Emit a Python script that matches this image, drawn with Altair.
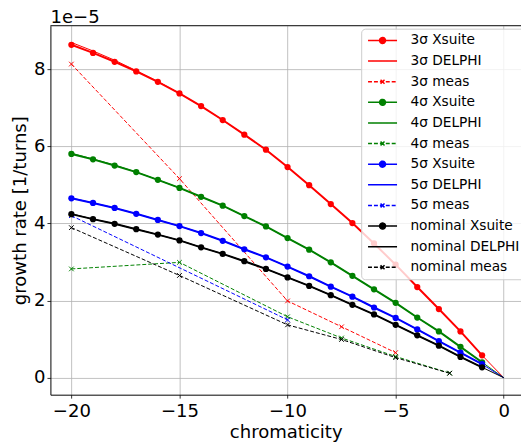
import altair as alt
import pandas as pd

# ---------------- data (growth rate in units of 1e-5 1/turns) ----------------
chroma_sim = [-20, -19, -18, -17, -16, -15, -14, -13, -12, -11,
              -10, -9, -8, -7, -6, -5, -4, -3, -2, -1]
chroma_delphi = [-20, -19, -18, -17, -16, -15, -14, -13, -12, -11,
                 -10, -9, -8, -7, -6, -5, -4, -3, -2, -1, 0]

s3_xsuite = [8.63, 8.42, 8.19, 7.94, 7.67, 7.37, 7.04, 6.68, 6.30, 5.91,
             5.46, 4.99, 4.50, 4.01, 3.48, 2.93, 2.35, 1.78, 1.20, 0.58]
s3_delphi = [8.69, 8.47, 8.23, 7.96, 7.68, 7.37, 7.04, 6.68, 6.30, 5.91,
             5.46, 4.99, 4.50, 4.01, 3.48, 2.93, 2.35, 1.78, 1.20, 0.58, 0.0]
s4_xsuite = [5.80, 5.66, 5.50, 5.33, 5.13, 4.92, 4.69, 4.46, 4.19, 3.92,
             3.62, 3.32, 2.99, 2.64, 2.29, 1.94, 1.56, 1.20, 0.80, 0.40]
s4_delphi = [5.82, 5.67, 5.51, 5.33, 5.13, 4.92, 4.69, 4.46, 4.19, 3.92,
             3.62, 3.32, 2.99, 2.64, 2.29, 1.94, 1.56, 1.20, 0.80, 0.40, 0.0]
s5_xsuite = [4.65, 4.53, 4.40, 4.25, 4.09, 3.93, 3.75, 3.55, 3.33, 3.12,
             2.88, 2.63, 2.36, 2.10, 1.82, 1.55, 1.25, 0.95, 0.65, 0.35]
s5_delphi = [4.66, 4.53, 4.40, 4.25, 4.09, 3.93, 3.75, 3.55, 3.33, 3.12,
             2.88, 2.63, 2.36, 2.10, 1.82, 1.55, 1.25, 0.95, 0.65, 0.35, 0.0]
nom_xsuite = [4.24, 4.11, 3.99, 3.85, 3.71, 3.56, 3.38, 3.21, 3.02, 2.82,
              2.60, 2.38, 2.14, 1.89, 1.64, 1.37, 1.10, 0.83, 0.54, 0.27]
nom_delphi = [4.25, 4.11, 3.99, 3.85, 3.71, 3.56, 3.38, 3.21, 3.02, 2.82,
              2.60, 2.38, 2.14, 1.89, 1.64, 1.37, 1.10, 0.83, 0.54, 0.27, 0.0]

s3_meas_chroma = [-20, -15, -10, -7.5, -5]
s3_meas = [8.13, 5.16, 1.99, 1.32, 0.65]
s4_meas_chroma = [-20, -15, -10, -7.5, -5, -2.5]
s4_meas = [2.82, 2.99, 1.58, 1.03, 0.55, 0.12]
s5_meas_chroma = [-20, -10]
s5_meas = [4.20, 1.50]
nom_meas_chroma = [-20, -15, -10, -7.5, -5, -2.5]
nom_meas = [3.89, 2.65, 1.37, 0.99, 0.52, 0.115]

groups = ["3σ", "4σ", "5σ", "nominal"]
group_colors = ["#ff0000", "#008000", "#0000ff", "#000000"]
kinds = ["Xsuite", "DELPHI", "meas"]

SCALE = 1e-5
rows = []
def add(group, kind, xs, ys):
    for x, y in zip(xs, ys):
        rows.append({"chroma": x, "rate": y * SCALE, "group": group,
                     "series": f"{group} {kind}", "kind": kind})

add("3σ", "Xsuite", chroma_sim, s3_xsuite)
add("3σ", "DELPHI", chroma_delphi, s3_delphi)
add("3σ", "meas", s3_meas_chroma, s3_meas)
add("4σ", "Xsuite", chroma_sim, s4_xsuite)
add("4σ", "DELPHI", chroma_delphi, s4_delphi)
add("4σ", "meas", s4_meas_chroma, s4_meas)
add("5σ", "Xsuite", chroma_sim, s5_xsuite)
add("5σ", "DELPHI", chroma_delphi, s5_delphi)
add("5σ", "meas", s5_meas_chroma, s5_meas)
add("nominal", "Xsuite", chroma_sim, nom_xsuite)
add("nominal", "DELPHI", chroma_delphi, nom_delphi)
add("nominal", "meas", nom_meas_chroma, nom_meas)
df = pd.DataFrame(rows)

names = [f"{g} {k}" for g in groups for k in kinds]
colors = [c for c in group_colors for _ in kinds]

FONT = "DejaVu Sans"
FS = 18.3
W, H = 477, 374

xscale = alt.Scale(domain=[-20.97, 0.8], nice=False, zero=False)
yscale = alt.Scale(domain=[-0.44e-5, 9.124e-5], nice=False, zero=False)
gscale = alt.Scale(domain=groups, range=group_colors)

xaxis = alt.Axis(title="chromaticity", values=[-20, -15, -10, -5, 0], format="d",
                 grid=True, labelFlush=False, labelPadding=5, titlePadding=4)
yaxis = alt.Axis(title="growth rate [1/turns]", values=[0, 2e-5, 4e-5, 6e-5, 8e-5],
                 labelExpr="round(datum.value * 100000)", grid=True,
                 labelFlush=False, titlePadding=4, labelPadding=2)

def enc(chart):
    return chart.encode(
        x=alt.X("chroma:Q", scale=xscale, axis=xaxis),
        y=alt.Y("rate:Q", scale=yscale, axis=yaxis),
        color=alt.Color("group:N", scale=gscale, legend=None),
    )

XPATH = "M-1,-1L1,1M-1,1L1,-1"

layers = []
for g in groups:
    base = alt.Chart(df)
    xs = base.transform_filter(alt.datum.series == f"{g} Xsuite")
    de = base.transform_filter(alt.datum.series == f"{g} DELPHI")
    me = base.transform_filter(alt.datum.series == f"{g} meas")
    layers.append(enc(xs.mark_line(strokeWidth=2)))
    layers.append(enc(xs.mark_point(filled=True, shape="circle", size=40, opacity=1)))
    layers.append(enc(de.mark_line(strokeWidth=1)))
    layers.append(enc(me.mark_line(strokeWidth=1, strokeDash=[4, 2])))
    layers.append(enc(me.mark_point(shape=XPATH, size=22, strokeWidth=1, opacity=1)))

# top spine
top = alt.Chart(pd.DataFrame({"a": [0]})).mark_rule(color="black", strokeWidth=1).encode(
    x=alt.value(0), x2=alt.value(W), y=alt.value(0))

# legend (invisible carrier layer); symbol unit = 5 px, line 29 px long
P_X = "M-1,0L4.88,0M2.54,0A0.6,0.6,0,1,1,1.34,0A0.6,0.6,0,1,1,2.54,0Z"
P_D = "M-1,0L4.88,0"
P_M = ("M-1,0L4.88,0"
       "M1.94,0L2.34,0.4M1.94,0L1.54,0.4M1.94,0L2.34,-0.4M1.94,0L1.54,-0.4")
shapes = [P_X, P_D, P_M] * 4
dashes = [[1, 0], [1, 0], [4, 2]] * 4

leg = alt.Legend(title=None, orient="none", legendX=315, legendY=3)
legend_layer = alt.Chart(df).mark_point(filled=True, opacity=0, strokeWidth=1.5).encode(
    x=alt.X("chroma:Q", scale=xscale, axis=xaxis),
    y=alt.Y("rate:Q", scale=yscale, axis=yaxis),
    fill=alt.Fill("series:N", scale=alt.Scale(domain=names, range=colors), legend=leg),
    stroke=alt.Stroke("series:N", scale=alt.Scale(domain=names, range=colors), legend=leg),
    shape=alt.Shape("series:N", scale=alt.Scale(domain=names, range=shapes), legend=leg),
    strokeDash=alt.StrokeDash("series:N", scale=alt.Scale(domain=names, range=dashes), legend=leg),
)

chart = alt.layer(*layers, top, legend_layer).properties(
    width=W, height=H,
    autosize=alt.AutoSizeParams(type="none"),
    padding={"left": 43, "top": 15, "right": 0, "bottom": 46},
    title=alt.TitleParams("1e−5", anchor="start", frame="group", fontSize=FS,
                          fontWeight="normal", font=FONT, color="black", offset=0,
                          dy=2.5),
).configure_view(stroke=None).configure_axis(
    labelFont=FONT, titleFont=FONT, labelFontSize=FS, titleFontSize=FS,
    titleFontWeight="normal", labelColor="black", titleColor="black",
    tickColor="black", domainColor="black", domainWidth=1, tickSize=3.5,
    tickWidth=0.8, gridColor="#b0b0b0", gridWidth=0.8,
    labelOverlap=False,
).configure_legend(
    labelFont=FONT, labelFontSize=13.9, labelColor="black", symbolSize=100,
    symbolStrokeWidth=1.5, symbolOpacity=1, rowPadding=5.9, labelOffset=31,
    padding=5, fillColor="rgba(255,255,255,0.8)", strokeColor="#cccccc",
    cornerRadius=4,
)

chart.save("out.html", embed_options={"renderer": "svg", "actions": False})
